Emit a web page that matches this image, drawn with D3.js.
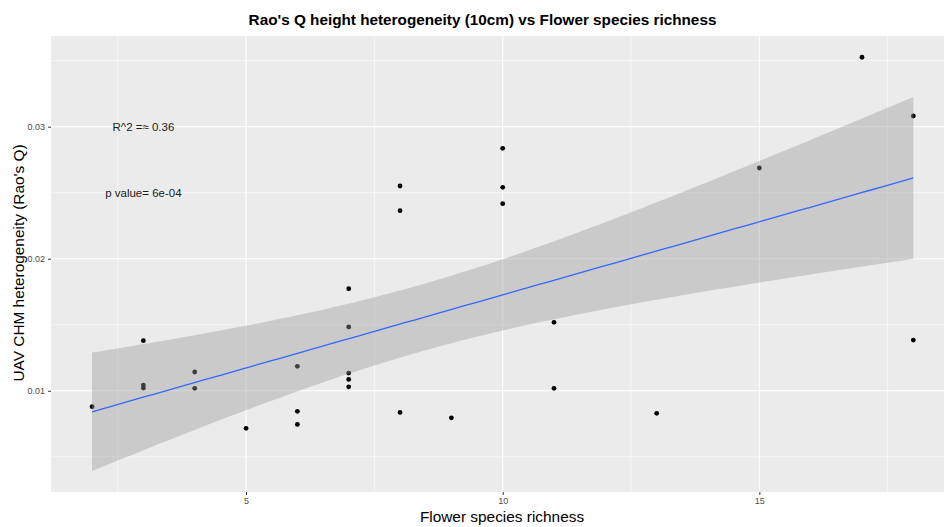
<!DOCTYPE html>
<html><head><meta charset="utf-8">
<script src="https://cdn.jsdelivr.net/npm/d3@7/dist/d3.min.js"></script>
<style>body{margin:0;background:#fff}svg{display:block;font-family:"Liberation Sans",Arial,sans-serif}</style>
</head><body>
<svg id="chart" width="944" height="527"></svg>
<script>
// ---- data ----
const richness = [2,3,3,3,4,4,5,6,6,6,7,7,7,7,7,8,8,8,9,10,10,10,11,11,13,15,17,18,18];
const raoQ = [0.00879,0.01379,0.01043,0.0102,0.01142,0.01018,0.00715,0.01185,0.00844,0.00745,
  0.01773,0.01483,0.01134,0.01086,0.0103,0.02551,0.02364,0.00836,0.00795,0.02836,0.02541,0.02417,
  0.01518,0.01018,0.00829,0.02687,0.03526,0.03081,0.01384];
const xTicks = [5,10,15];
const xMinor = [2.5,7.5,12.5,17.5];
const yTicks = [0.01,0.02,0.03];
const yMinor = [0.005,0.015,0.025,0.035];
const xLimits = [1.2,18.8];
const yLimits = [0.00233,0.03687];
const annotations = [
  {x:3, y:0.03, label:"R^2 =\u2248 0.36"},
  {x:3, y:0.025, label:"p value= 6e-04"}
];
const titleText = "Rao's Q height heterogeneity (10cm) vs Flower species richness";
const xTitle = "Flower species richness";
const yTitle = "UAV CHM heterogeneity (Rao's Q)";

// ---- layout ----
const svg = d3.select("#chart");
const P = {left:51, right:954.4, top:36, bottom:492};
const x = d3.scaleLinear().domain(xLimits).range([P.left,P.right]);
const y = d3.scaleLinear().domain(yLimits).range([P.bottom,P.top]);

// panel
svg.append("rect").attr("x",P.left).attr("y",P.top)
  .attr("width",P.right-P.left).attr("height",P.bottom-P.top).attr("fill","#EBEBEB");
const grid = svg.append("g");
yMinor.forEach(v=>grid.append("line").attr("x1",P.left).attr("x2",P.right).attr("y1",y(v)).attr("y2",y(v)).attr("stroke","#fff").attr("stroke-width",0.55));
xMinor.forEach(v=>grid.append("line").attr("y1",P.top).attr("y2",P.bottom).attr("x1",x(v)).attr("x2",x(v)).attr("stroke","#fff").attr("stroke-width",0.55));
yTicks.forEach(v=>grid.append("line").attr("x1",P.left).attr("x2",P.right).attr("y1",y(v)).attr("y2",y(v)).attr("stroke","#fff").attr("stroke-width",1.1));
xTicks.forEach(v=>grid.append("line").attr("y1",P.top).attr("y2",P.bottom).attr("x1",x(v)).attr("x2",x(v)).attr("stroke","#fff").attr("stroke-width",1.1));

// points
svg.append("g").selectAll("circle").data(richness).join("circle")
  .attr("cx",(d)=>x(d)).attr("cy",(d,i)=>y(raoQ[i])).attr("r",2.4).attr("fill","#000");

// linear regression with 95% CI
const n = richness.length;
const mx = d3.mean(richness), my = d3.mean(raoQ);
let sxx=0, sxy=0;
for(let i=0;i<n;i++){sxx+=(richness[i]-mx)**2; sxy+=(richness[i]-mx)*(raoQ[i]-my);}
const b = sxy/sxx, a = my-b*mx;
let sse=0; for(let i=0;i<n;i++){sse+=(raoQ[i]-(a+b*richness[i]))**2;}
const s = Math.sqrt(sse/(n-2));
const tq = 2.0518; // t(0.975, df=27)
const x0 = d3.min(richness), x1 = d3.max(richness);
const grid80 = d3.range(80).map(i=>x0+(x1-x0)*i/79);
const fit = grid80.map(xv=>{
  const yh=a+b*xv; const se=s*Math.sqrt(1/n+(xv-mx)**2/sxx);
  return {x:xv,y:yh,lo:yh-tq*se,hi:yh+tq*se};
});
svg.append("path").datum(fit)
  .attr("d",d3.area().x(d=>x(d.x)).y0(d=>y(d.lo)).y1(d=>y(d.hi)))
  .attr("fill","#999999").attr("fill-opacity",0.4);
svg.append("path").datum(fit)
  .attr("d",d3.line().x(d=>x(d.x)).y(d=>y(d.y)))
  .attr("fill","none").attr("stroke","#3366FF").attr("stroke-width",1.3);

// annotations
svg.append("g").selectAll("text").data(annotations).join("text")
  .attr("x",d=>x(d.x)).attr("y",d=>y(d.y)).attr("dy","0.35em")
  .attr("text-anchor","middle").attr("font-size","11.5px").attr("fill","#1a1a1a")
  .text(d=>d.label);

// axes
const xAxis = svg.append("g").attr("transform",`translate(0,${P.bottom})`)
  .call(d3.axisBottom(x).tickValues(xTicks).tickSize(3).tickPadding(3).tickFormat(d3.format("d")));
const yAxis = svg.append("g").attr("transform",`translate(${P.left},0)`)
  .call(d3.axisLeft(y).tickValues(yTicks).tickSize(3).tickPadding(3).tickFormat(d3.format(".2f")));
[xAxis,yAxis].forEach(g=>{
  g.select(".domain").remove();
  g.selectAll(".tick line").attr("stroke","#333").attr("stroke-width",1);
  g.selectAll(".tick text").attr("fill","#4D4D4D").attr("font-size","9px")
    .attr("font-family","'Liberation Sans',Arial,sans-serif");
});

// titles
svg.append("text").attr("x",482.5).attr("y",25).attr("text-anchor","middle")
  .attr("font-size","15.3px").attr("font-weight","bold").attr("fill","#000").text(titleText);
svg.append("text").attr("x",502).attr("y",522).attr("text-anchor","middle")
  .attr("font-size","15.4px").attr("fill","#000").text(xTitle);
svg.append("text").attr("transform",`translate(23.5,263) rotate(-90)`).attr("text-anchor","middle")
  .attr("font-size","15.4px").attr("fill","#000").text(yTitle);
</script>
</body></html>
